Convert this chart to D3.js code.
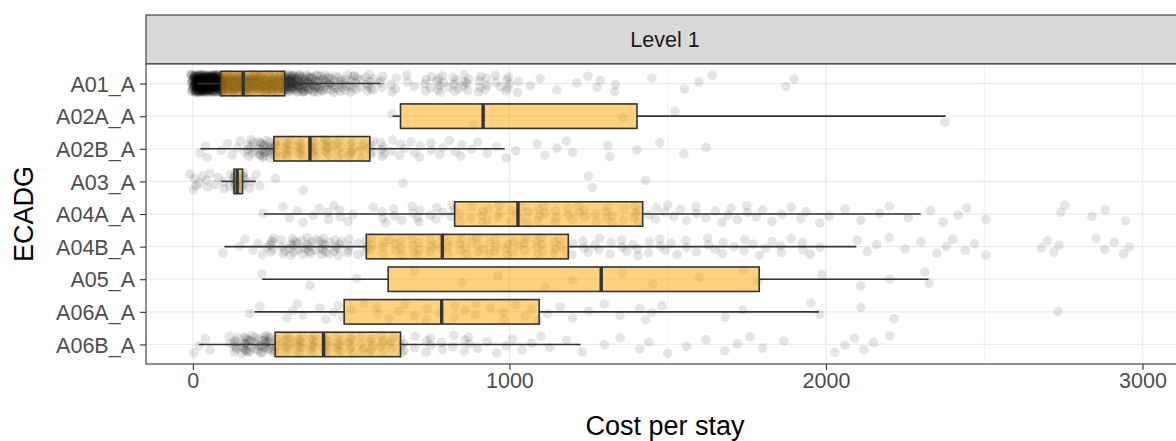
<!DOCTYPE html>
<html><head><meta charset="utf-8">
<script src="https://cdn.jsdelivr.net/npm/d3@7"></script>
<style>body{margin:0;background:#fff}svg{display:block}</style>
</head><body>
<svg id="c" width="1176" height="441"></svg>
<script>
const categories = ["A01_A","A02A_A","A02B_A","A03_A","A04A_A","A04B_A","A05_A","A06A_A","A06B_A"];
const whiskerLow  = [14, 631, 24, 90, 224, 100, 219, 195, 19];
const q1          = [88, 656, 256, 130, 827, 548, 617, 478, 260];
const median      = [159, 917, 370, 140, 1027, 788, 1290, 786, 413];
const q3          = [290, 1403, 559, 157, 1421, 1186, 1789, 1094, 656];
const whiskerHigh = [593, 2378, 985, 198, 2299, 2096, 2324, 1978, 1225];
const xTicks = [0, 1000, 2000, 3000];
const stripLabel = "Level 1";
const xTitle = "Cost per stay";
const yTitle = "ECADG";

// observed points: [cost, how many points at about that cost]
const pts_A01_A = [[5,35],[15,38],[25,38],[35,38],[45,36],[55,34],[65,32],[75,30],[85,28],
[100,26],[120,26],[140,25],[160,25],[180,24],[200,24],[220,23],[240,22],[260,22],[280,22],
[300,24],[320,22],[340,19],[360,16],[380,13],[400,11],[420,9],[440,8],
[460,7],[480,6],[500,5],[520,5],[540,4],[560,4],[580,3],[600,3],
[620,2],[650,2],[680,2],[700,1],[730,3],[760,3],[780,4],[800,3],[830,4],[850,4],[870,3],[900,4],[930,3],[950,2],[980,3],[1000,3],[1020,2],
[1066,1],[1097,1],[1150,1],[1213,1],[1248,1],[1276,1],[1287,1],[1333,1],[1335,1],[1450,1],[1553,1],[1598,1],[1641,1],[1874,1],[1900,1]];
const pts_A02A_A = [[629,1],[888,1],[1359,1],[1523,1],[2376,1]];
const pts_A02B_A = [[22,1],[40,1],[45,1],[90,1],[110,1],[125,1],[140,1],[150,1],[165,1],[175,1],[180,2],
[190,4],[205,5],[220,6],[235,7],[250,7],
[270,4],[290,4],[310,4],[330,4],[350,4],[370,4],[390,4],[410,4],[430,4],[450,4],[470,3],[490,3],[510,3],[530,3],[550,3],
[570,3],[590,3],[610,2],[630,2],
[650,2],[680,2],[700,1],[720,2],[750,2],[780,1],[800,2],[830,1],[850,2],[880,1],
[900,1],[930,1],[960,1],[990,1],
[1020,1],[1087,1],[1112,1],[1150,1],[1180,1],[1200,1],[1311,1],[1317,1],[1403,1],[1475,1],[1551,1],[1621,1]];
const pts_A03_A = [[2,2],[10,2],[20,1],[30,1],[40,2],[55,1],[70,1],[80,1],[100,2],[115,2],[130,4],[140,5],[150,4],[160,3],[170,2],[185,1],[200,1],[212,1],[261,1],[349,1],[664,1],[1250,1],[1262,1],[1430,1]];
const pts_A04A_A = [[222,1],[285,1],[305,1],[330,1],[348,1],[380,1],[400,1],[420,2],[445,1],[470,2],[490,1],[505,1],
[570,1],[590,2],[610,1],[640,2],[660,1],[690,2],[710,1],[725,2],[750,1],[770,2],[790,1],[810,2],[826,1],
[850,2],[880,2],[910,3],[940,2],[970,3],[1000,2],[1030,3],[1060,2],[1090,3],[1120,2],[1150,3],[1180,2],[1210,3],[1240,2],[1270,2],[1300,3],[1330,2],[1360,2],[1390,3],[1415,2],
[1440,1],[1460,2],[1490,1],[1510,2],[1540,1],[1560,1],[1590,2],[1620,1],[1650,1],[1680,2],[1700,1],[1720,1],[1750,2],[1780,1],[1800,1],[1830,1],[1860,1],[1890,1],[1920,1],[1937,1],
[1980,1],[2010,1],[2060,1],[2110,1],[2170,1],[2200,1],[2260,1],[2330,1],
[2370,1],[2417,1],[2445,1],[2505,1],[2742,1],[2755,1],[2840,1],[2882,1],[2946,1]];
const pts_A04B_A = [[95,1],[148,1],[165,1],[190,1],[205,1],[220,1],[234,1],
[240,3],[260,3],[280,3],[300,4],[320,4],[340,5],[360,4],[380,5],[400,4],[420,5],[440,4],[460,3],
[480,2],[500,3],[520,2],[540,3],
[570,3],[600,3],[630,3],[660,3],[690,3],[720,3],[750,3],[780,3],[810,3],[840,3],[870,3],[900,3],[930,3],[960,3],[990,3],[1020,3],[1050,3],[1080,3],[1110,3],[1140,3],[1170,3],
[1200,2],[1230,2],[1260,2],[1290,2],[1320,2],[1350,2],[1380,2],[1410,2],[1440,2],[1470,2],[1500,2],
[1530,1],[1560,2],[1590,1],[1620,2],[1650,1],[1680,2],[1710,1],[1740,2],[1770,1],[1800,2],[1830,1],[1860,2],[1890,1],[1920,2],[1950,1],[1982,1],
[2098,1],[2130,1],[2160,1],[2200,1],[2250,1],[2300,1],[2350,1],[2380,1],[2400,1],[2440,1],[2470,1],[2505,1],
[2680,1],[2700,1],[2720,1],[2736,1],[2853,1],[2880,1],[2910,1],[2940,1],[2958,1]];
const pts_A05_A = [[218,1],[370,1],[518,1],[700,1],[850,1],[964,1],[1112,1],[1200,1],[1356,1],[1454,1],[1600,1],[1738,1],[1785,1],[1987,1],[2110,1],[2202,1],[2313,1],[2326,1]];
const pts_A06A_A = [[180,1],[212,1],[297,1],[315,1],[330,1],[348,1],[401,1],[420,1],[445,1],[460,1],[474,1],
[500,1],[540,1],[580,2],[620,1],[660,2],[700,1],[740,2],[780,1],[820,2],[860,1],[900,2],[940,1],[980,2],[1020,1],[1060,2],[1090,1],
[1120,1],[1160,1],[1200,1],[1250,1],[1300,1],[1350,1],[1412,1],
[1430,1],[1450,1],[1482,1],[1681,1],[1738,1],[1953,1],[1981,1],[2110,1],[2215,1],[2733,1]];
const pts_A06B_A = [[3,1],[20,1],[40,1],[54,1],
[117,2],[130,4],[145,5],[160,5],[175,6],[190,6],[205,6],[220,6],[235,6],[250,6],
[270,4],[290,4],[310,4],[330,4],[350,4],[370,4],[390,4],[410,4],[430,4],[450,4],[470,3],[490,3],[510,3],[530,3],[550,3],[570,3],[590,3],[610,3],[630,3],[650,3],
[670,2],[700,2],[730,2],[760,2],[790,2],[820,2],[850,2],[880,2],
[900,1],[930,1],[960,1],[990,1],[1010,1],[1040,1],[1070,1],[1100,1],[1128,1],
[1181,1],[1230,1],[1300,1],[1350,1],[1412,1],
[1440,1],[1500,1],[1560,1],[1620,1],[1680,1],[1720,1],[1760,1],[1800,1],[1867,1],
[2028,1],[2060,1],[2090,1],[2120,1],[2150,1],[2202,1]];
const pointSets = [pts_A01_A, pts_A02A_A, pts_A02B_A, pts_A03_A, pts_A04A_A, pts_A04B_A, pts_A05_A, pts_A06A_A, pts_A06B_A];

const svg = d3.select("#c");
const L = 146, R = 1184, T = 64, B = 364;
const x = d3.scaleLinear().domain([-148, 3131]).range([L, R]);
const y = d3.scalePoint().domain(categories).range([T, B]).padding(0.6);
const step = y.step();
const font = "'Liberation Sans', Arial, sans-serif";

svg.append("defs").append("clipPath").attr("id","pc")
  .append("rect").attr("x",L).attr("y",T).attr("width",R-L).attr("height",B-T);

// strip
svg.append("rect").attr("x",L).attr("y",15).attr("width",R-L).attr("height",T-15)
  .attr("fill","#d9d9d9").attr("stroke","#333").attr("stroke-width",1.1);
svg.append("text").attr("x",(L+R)/2).attr("y",47).attr("text-anchor","middle")
  .attr("font-family",font).attr("font-size",21.5).attr("fill","#1a1a1a").text(stripLabel);

const panel = svg.append("g").attr("clip-path","url(#pc)");
panel.append("rect").attr("x",L).attr("y",T).attr("width",R-L).attr("height",B-T).attr("fill","#fff");
// minor grid
const minor = [];
for (let i = 0; i < xTicks.length - 1; i++) minor.push((xTicks[i] + xTicks[i+1]) / 2);
minor.push(xTicks[xTicks.length-1] + (xTicks[1]-xTicks[0]) / 2);
panel.selectAll(".mg").data(minor).join("line")
  .attr("x1",d=>x(d)).attr("x2",d=>x(d)).attr("y1",T).attr("y2",B)
  .attr("stroke","#ebebeb").attr("stroke-width",0.7);
panel.selectAll(".gx").data(xTicks).join("line")
  .attr("x1",d=>x(d)).attr("x2",d=>x(d)).attr("y1",T).attr("y2",B)
  .attr("stroke","#ebebeb").attr("stroke-width",1.3);
panel.selectAll(".gy").data(categories).join("line")
  .attr("x1",L).attr("x2",R).attr("y1",d=>y(d)).attr("y2",d=>y(d))
  .attr("stroke","#ebebeb").attr("stroke-width",1.3);

// jittered points
const pts = [];
pointSets.forEach((set, ci) => {
  let n = 0;
  set.forEach(([v, c]) => {
    for (let k = 0; k < c; k++) {
      const jy = ((n * 0.6180339887 + ci * 0.37) % 1) - 0.5;
      const jx = c > 1 ? (((k * 0.7548776662 + n * 0.13) % 1) - 0.5) : 0;
      pts.push({cat: categories[ci], v, jy, jx});
      n++;
    }
  });
});
panel.append("g").selectAll("circle").data(pts).join("circle")
  .attr("cx", d => x(d.v) + d.jx * 7)
  .attr("cy", d => y(d.cat) + d.jy * step * 0.56)
  .attr("r", 4.8).attr("fill","#000").attr("fill-opacity",0.1);

// boxes
const bw = step * 0.75;
const boxes = categories.map((c,i)=>({c, lo:whiskerLow[i], q1:q1[i], md:median[i], q3:q3[i], hi:whiskerHigh[i]}));
const bg = panel.append("g");
bg.selectAll(".wl").data(boxes).join("line")
  .attr("x1",d=>x(d.lo)).attr("x2",d=>x(d.q1)).attr("y1",d=>y(d.c)).attr("y2",d=>y(d.c))
  .attr("stroke","#333").attr("stroke-width",1.6);
bg.selectAll(".wh").data(boxes).join("line")
  .attr("x1",d=>x(d.q3)).attr("x2",d=>x(d.hi)).attr("y1",d=>y(d.c)).attr("y2",d=>y(d.c))
  .attr("stroke","#333").attr("stroke-width",1.6);
bg.selectAll(".bx").data(boxes).join("rect")
  .attr("x",d=>x(d.q1)).attr("width",d=>x(d.q3)-x(d.q1))
  .attr("y",d=>y(d.c)-bw/2).attr("height",bw)
  .attr("fill","#ffa500").attr("fill-opacity",0.5)
  .attr("stroke","#333").attr("stroke-width",1.6);
bg.selectAll(".md").data(boxes).join("line")
  .attr("x1",d=>x(d.md)).attr("x2",d=>x(d.md))
  .attr("y1",d=>y(d.c)-bw/2).attr("y2",d=>y(d.c)+bw/2)
  .attr("stroke","#333").attr("stroke-width",3.4);

// panel border
svg.append("rect").attr("x",L).attr("y",T).attr("width",R-L).attr("height",B-T)
  .attr("fill","none").attr("stroke","#333").attr("stroke-width",1.1);

// axes
const xa = svg.append("g").attr("transform",`translate(0,${B})`)
  .call(d3.axisBottom(x).tickValues(xTicks).tickFormat(d3.format("d")).tickSize(6).tickSizeOuter(0).tickPadding(3));
xa.select(".domain").remove();
xa.selectAll("line").attr("stroke","#333").attr("stroke-width",1.1);
xa.selectAll("text").attr("font-family",font).attr("font-size",21.5).attr("fill","#4d4d4d").attr("dy","0.71em").attr("y",9);

const ya = svg.append("g").attr("transform",`translate(${L},0)`)
  .call(d3.axisLeft(y).tickSize(6).tickSizeOuter(0).tickPadding(5));
ya.select(".domain").remove();
ya.selectAll("line").attr("stroke","#333").attr("stroke-width",1.1);
ya.selectAll("text").attr("font-family",font).attr("font-size",21.5).attr("fill","#4d4d4d").attr("dy","0.36em");

svg.append("text").attr("x",(L+R)/2).attr("y",435).attr("text-anchor","middle")
  .attr("font-family",font).attr("font-size",27).attr("fill","#000").text(xTitle);
svg.append("text").attr("transform",`translate(33,${(T+B)/2}) rotate(-90)`).attr("text-anchor","middle")
  .attr("font-family",font).attr("font-size",27).attr("fill","#000").text(yTitle);
</script>
</body></html>
